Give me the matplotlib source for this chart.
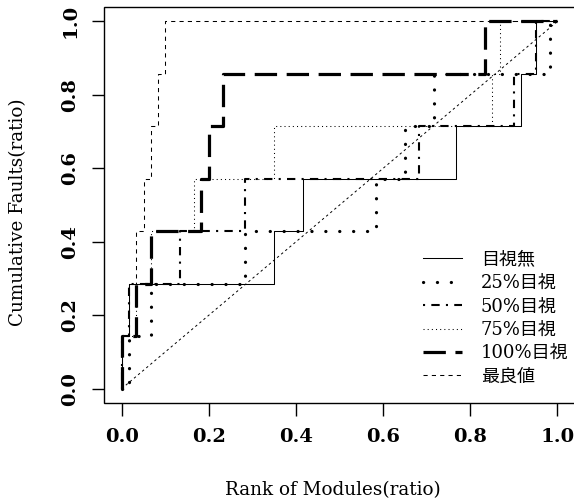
import matplotlib
matplotlib.use("Agg")
from matplotlib import pyplot as plt
from matplotlib.patches import Rectangle
from matplotlib.font_manager import FontProperties

# cumulative fault ratio (7 faults) and the module-rank ratio where each fault is reached
fault_ratio = [0.0, 0.143, 0.286, 0.429, 0.571, 0.714, 0.857, 1.0]

steps_none = [0.0, 0.017, 0.35, 0.417, 0.767, 0.917, 0.95]
steps_25 = [0.017, 0.067, 0.283, 0.583, 0.65, 0.717, 0.983]
steps_50 = [0.0, 0.017, 0.133, 0.283, 0.683, 0.9, 0.95]
steps_75 = [0.0, 0.033, 0.067, 0.167, 0.35, 0.85, 0.867]
steps_100 = [0.0, 0.033, 0.067, 0.183, 0.2, 0.233, 0.833]
steps_best = [0.0, 0.017, 0.033, 0.05, 0.067, 0.083, 0.1]

labels = ["目視無", "25%目視", "50%目視", "75%目視", "100%目視", "最良値"]

xticks = [0.0, 0.2, 0.4, 0.6, 0.8, 1.0]
yticks = [0.0, 0.2, 0.4, 0.6, 0.8, 1.0]

FAMILY = ["DejaVu Serif", "Noto Sans CJK JP"]


def curve(steps):
    """x/y for a steps-post line starting at origin and ending at x=1"""
    return [0.0] + steps + [1.0], fault_ratio + [1.0]


fig = plt.figure(figsize=(5.74, 5.04), dpi=100)
ax = fig.add_axes([0.1817, 0.1998, 0.8199, 0.7869])

styles = [
    (steps_none, dict(lw=0.75, ls="-")),
    (steps_25, dict(lw=2.3, ls=(0, (0.05, 4.3)), dash_capstyle="round")),
    (steps_50, dict(lw=1.5, ls=(0, (1, 3, 4, 3)))),
    (steps_75, dict(lw=0.75, ls=(0, (1, 3)))),
    (steps_100, dict(lw=2.3, ls=(0, (7, 3)))),
    (steps_best, dict(lw=0.75, ls=(0, (4, 4)))),
]

handles = []
for (st, kw), lab in zip(styles, labels):
    x, y = curve(st)
    h, = ax.plot(x, y, drawstyle="steps-post", color="black", label=lab, **kw)
    handles.append(h)

# random-order reference diagonal
ax.plot([0, 1], [0, 1], color="black", lw=0.7, ls=(0, (2.5, 3)))

ax.set_xlim(-0.04, 1.04)
ax.set_ylim(-0.04, 1.04)

for s in ax.spines.values():
    s.set_visible(False)
ax.add_patch(Rectangle((0, 0), 1, 1, transform=ax.transAxes, fill=False,
                       lw=1.0, color="black", clip_on=False))

ax.set_xticks(xticks)
ax.set_yticks(yticks)
ax.set_xticklabels([f"{v:.1f}" for v in xticks], family="DejaVu Serif",
                   fontweight="bold", fontsize=14)
ax.set_yticklabels([f"{v:.1f}" for v in yticks], family="DejaVu Serif",
                   fontweight="bold", fontsize=14, rotation=90, va="center")
ax.tick_params(axis="both", direction="out", length=9, width=1.0)
ax.tick_params(axis="x", pad=9)
ax.tick_params(axis="y", pad=9)

ax.set_xlabel("Rank of Modules(ratio)", family="DejaVu Serif", fontsize=13.2)
ax.set_ylabel("Cumulative Faults(ratio)", family="DejaVu Serif", fontsize=13.2)
ax.xaxis.set_label_coords(0.485, -0.2186)
ax.xaxis.label.set_va("center")
ax.yaxis.set_label_coords(-0.1834, 0.481)
ax.yaxis.label.set_va("center")

ax.legend(handles=handles, loc="upper left", bbox_to_anchor=(0.677, 0.385),
          frameon=False, borderpad=0, borderaxespad=0,
          handlelength=2.15, handletextpad=1.05, labelspacing=0.3,
          prop=FontProperties(family=FAMILY, size=13))

fig.savefig("out.png", dpi=100)
